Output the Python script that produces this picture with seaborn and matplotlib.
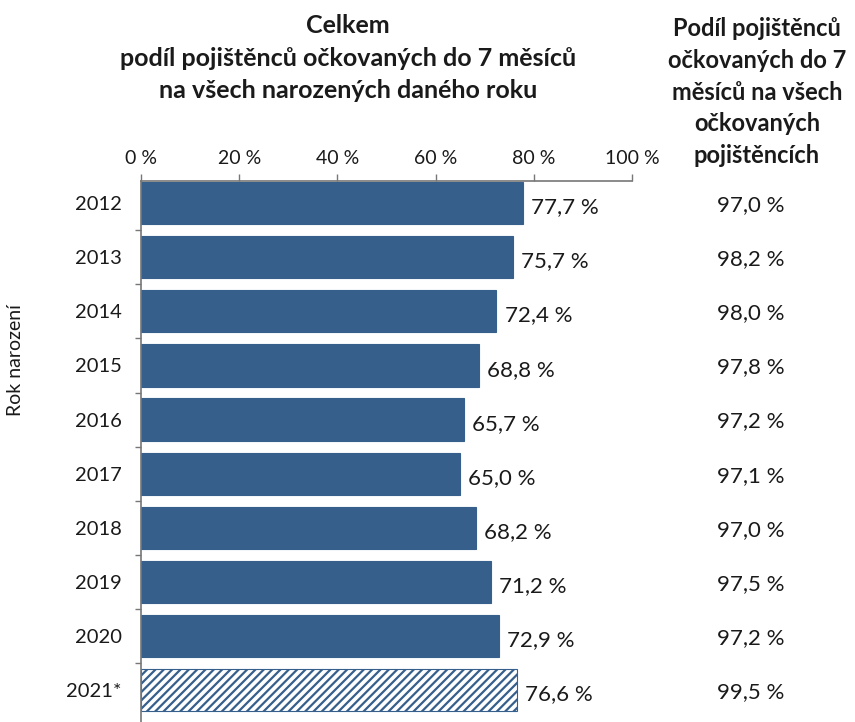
import matplotlib
matplotlib.use("Agg")
import matplotlib.pyplot as plt
import seaborn as sns
import pandas as pd

years = ["2012", "2013", "2014", "2015", "2016", "2017", "2018", "2019", "2020", "2021*"]
share_all = [77.7, 75.7, 72.4, 68.8, 65.7, 65.0, 68.2, 71.2, 72.9, 76.6]
share_vacc = [97.0, 98.2, 98.0, 97.8, 97.2, 97.1, 97.0, 97.5, 97.2, 99.5]
x_ticks = [0, 20, 40, 60, 80, 100]

sns.set_theme(style="white")
plt.rcParams["font.family"] = ["Lato", "DejaVu Sans"]
plt.rcParams["hatch.linewidth"] = 1.6

BLUE = "#365f8c"
TXT = "#1a1a1a"

df = pd.DataFrame({"year": years, "value": share_all})

fig = plt.figure(figsize=(8.55, 7.22), dpi=100)
ax = fig.add_axes([141 / 855, 0.0, (632 - 141) / 855, 1 - 181 / 722])

sns.barplot(data=df, x="value", y="year", orient="h", color=BLUE,
            width=0.78, saturation=1, ax=ax, edgecolor=BLUE, linewidth=0.8)

# last year is preliminary: hatched bar
last = ax.patches[-1]
last.set_facecolor("white")
last.set_hatch("////")
last.set_edgecolor(BLUE)

ax.set_xlim(0, 100)
ax.set_ylim(len(years) - 1 + 0.59, -0.41)

ax.xaxis.tick_top()
ax.set_xticks(x_ticks)
ax.set_xticklabels([f"{t} %" for t in x_ticks], fontsize=14, color=TXT)
ax.tick_params(axis="x", direction="out", length=5, width=1, color="#777777", pad=5, top=True)
ax.tick_params(axis="y", length=0, pad=14, labelsize=14.5, labelcolor=TXT)
ax.set_yticks(range(len(years)))
ax.set_yticklabels(years)
# small ticks between categories
ax.set_yticks([i + 0.5 for i in range(len(years) - 1)], minor=True)
ax.tick_params(axis="y", which="minor", direction="out", length=4, width=1, color="#777777", left=True)
ax.set_xlabel("")
ax.set_ylabel("Rok narození", fontsize=14, color=TXT)
ax.yaxis.set_label_coords((24 - 141) / 491, (722 - 360) / 541)

for s in ["right", "bottom"]:
    ax.spines[s].set_visible(False)
for s in ["top", "left"]:
    ax.spines[s].set_color("#777777")
    ax.spines[s].set_linewidth(1.2)

for i, v in enumerate(share_all):
    ax.annotate(f"{v:.1f} %".replace(".", ","), xy=(v, i), xytext=(6, -3),
                textcoords="offset points", va="center", ha="left",
                fontsize=16, color=TXT)
    ax.annotate(f"{share_vacc[i]:.1f} %".replace(".", ","), xy=(0, i),
                xycoords=("figure fraction", "data"), xytext=(751, -2),
                textcoords="offset pixels", va="center", ha="center",
                fontsize=16, color=TXT)

fig.text(348 / 855, 1 - 58 / 722,
         "Celkem\npodíl pojištěnců očkovaných do 7 měsíců\nna všech narozených daného roku",
         ha="center", va="center", fontsize=18, fontweight="bold", color=TXT, linespacing=1.5)
fig.text(757 / 855, 1 - 92 / 722,
         "Podíl pojištěnců\nočkovaných do 7\nměsíců na všech\nočkovaných\npojištěncích",
         ha="center", va="center", fontsize=17, fontweight="bold", color=TXT, linespacing=1.45)

fig.savefig("out.png", dpi=100, facecolor="white")
